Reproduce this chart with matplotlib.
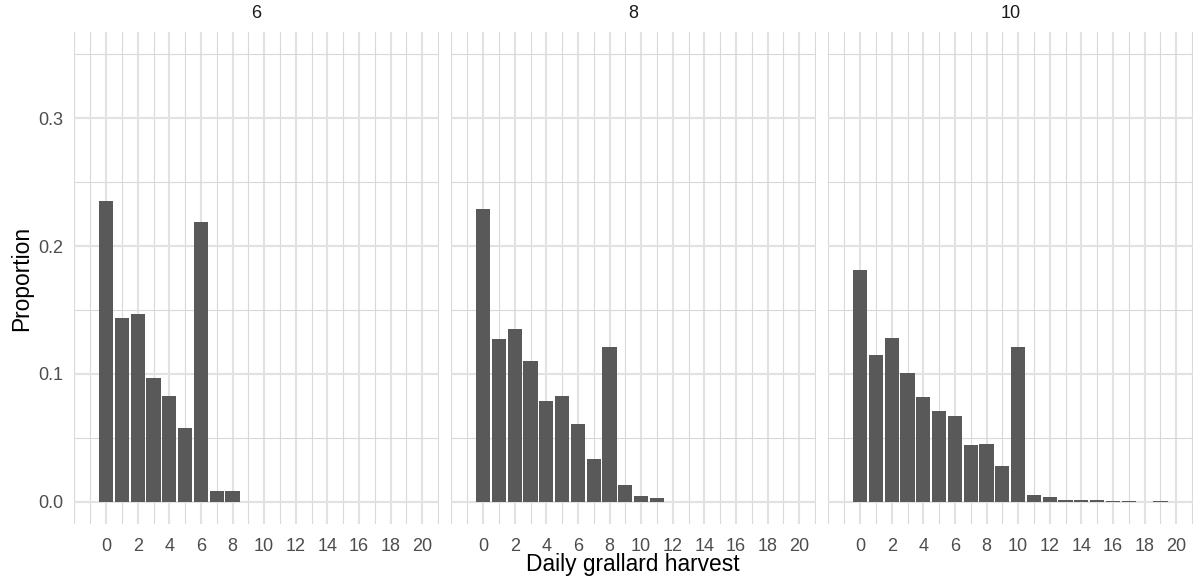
import numpy as np
import matplotlib.pyplot as plt
from matplotlib.ticker import FixedLocator

plt.rcParams['font.family'] = ['Liberation Sans', 'DejaVu Sans']

# daily harvest counts and the proportion of days for each cap
harvest = list(range(0, 21))
caps = ["6", "8", "10"]

prop_6 = [0.235, 0.144, 0.147, 0.097, 0.083, 0.058, 0.219, 0.008, 0.008,
          0, 0, 0, 0, 0, 0, 0, 0, 0, 0, 0, 0]
prop_8 = [0.229, 0.127, 0.135, 0.110, 0.079, 0.083, 0.061, 0.033, 0.121,
          0.013, 0.0042, 0.0029, 0, 0, 0, 0, 0, 0, 0, 0, 0]
prop_10 = [0.181, 0.115, 0.128, 0.101, 0.082, 0.071, 0.067, 0.044, 0.045,
           0.028, 0.121, 0.005, 0.0034, 0.001, 0.001, 0.0012, 0.0004, 0.0004,
           0, 0.0004, 0]
props = [prop_6, prop_8, prop_10]

W, H = 1198, 583
fig = plt.figure(figsize=(W / 100, H / 100), dpi=100)

# panel edges in pixels
lefts = [74, 451, 828]
pw = 364.5
top, bottom = 32, 524

for i, (cap, p) in enumerate(zip(caps, props)):
    ax = fig.add_axes([lefts[i] / W, (H - bottom) / H, pw / W, (bottom - top) / H])
    ax.bar(harvest, p, width=0.9, color="#595959", zorder=3)
    ax.set_xlim(-2.03, 21.03)
    ax.set_ylim(-0.0175, 0.3675)

    ax.xaxis.set_major_locator(FixedLocator(list(range(0, 21, 2))))
    ax.xaxis.set_minor_locator(FixedLocator([-2] + list(range(-1, 22, 2))))
    ax.yaxis.set_major_locator(FixedLocator([0, 0.1, 0.2, 0.3]))
    ax.yaxis.set_minor_locator(FixedLocator([0.05, 0.15, 0.25, 0.35]))
    ax.set_yticklabels(["0.0", "0.1", "0.2", "0.3"])

    ax.grid(which="major", color="#e2e2e2", linewidth=1.5, zorder=0)
    ax.grid(which="minor", color="#d9d9d9", linewidth=0.8, zorder=0)
    ax.tick_params(which="both", length=0, colors="#4d4d4d", labelsize=13)
    ax.tick_params(axis="x", pad=10)
    ax.tick_params(axis="y", pad=8)
    if i > 0:
        ax.tick_params(axis="y", labelleft=False)
    for s in ax.spines.values():
        s.set_visible(False)

    ax.set_title(cap, fontsize=13, color="#1a1a1a", pad=10)

fig.text((74 + 1192) / 2 / W, 1 - 565 / H, "Daily grallard harvest",
         ha="center", va="center", fontsize=16.4)
fig.text(22 / W, 1 - 278 / H, "Proportion", rotation=90,
         ha="center", va="center", fontsize=16.4)

fig.savefig("out.png", dpi=100, facecolor="white")
